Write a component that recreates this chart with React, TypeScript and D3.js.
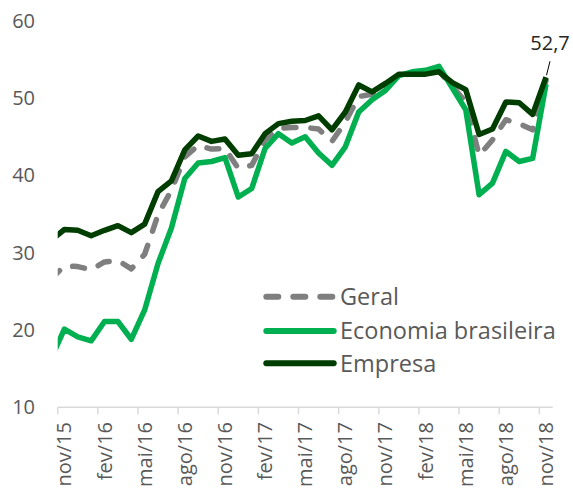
import React from "react";
import * as d3 from "d3";

// Categories: out/15 is only partly visible (clipped at the axis start)
const months: string[] = [
  "out/15", "nov/15", "dez/15", "jan/16", "fev/16", "mar/16", "abr/16", "mai/16", "jun/16", "jul/16",
  "ago/16", "set/16", "out/16", "nov/16", "dez/16", "jan/17", "fev/17", "mar/17", "abr/17", "mai/17",
  "jun/17", "jul/17", "ago/17", "set/17", "out/17", "nov/17", "dez/17", "jan/18", "fev/18", "mar/18",
  "abr/18", "mai/18", "jun/18", "jul/18", "ago/18", "set/18", "out/18", "nov/18",
];

const geral: number[] = [
  26.6, 28.3, 28.2, 27.8, 28.8, 29.0, 27.9, 29.8, 34.9, 38.1,
  42.4, 43.9, 43.4, 43.5, 40.9, 41.3, 44.6, 46.1, 46.2, 46.2,
  46.0, 44.4, 46.9, 50.2, 50.5, 51.5, 53.0, 53.2, 53.3, 53.5,
  51.5, 49.5, 42.6, 44.6, 47.2, 46.7, 45.9, 52.3,
];

const economia: number[] = [
  16.3, 20.1, 19.1, 18.6, 21.1, 21.1, 18.8, 22.6, 28.6, 33.2,
  39.6, 41.6, 41.8, 42.3, 37.2, 38.3, 43.5, 45.4, 44.2, 45.0,
  42.9, 41.3, 43.7, 48.2, 49.8, 51.0, 52.9, 53.4, 53.6, 54.1,
  51.3, 48.5, 37.5, 39.0, 43.1, 41.8, 42.2, 51.8,
];

const empresa: number[] = [
  31.6, 33.0, 32.9, 32.2, 32.9, 33.5, 32.6, 33.7, 37.9, 39.3,
  43.3, 45.1, 44.4, 44.7, 42.6, 42.8, 45.4, 46.7, 47.0, 47.1,
  47.7, 45.9, 48.2, 51.7, 50.8, 51.9, 53.1, 53.1, 53.1, 53.4,
  52.0, 51.1, 45.3, 46.0, 49.5, 49.4, 47.9, 52.7,
];

const yTicks: number[] = [10, 20, 30, 40, 50, 60];
const tickLabels: string[] = [
  "nov/15", "fev/16", "mai/16", "ago/16", "nov/16", "fev/17", "mai/17",
  "ago/17", "nov/17", "fev/18", "mai/18", "ago/18", "nov/18",
];
const lastLabel = "52,7";

const series = [
  { name: "Geral", values: geral, color: "#7f7f7f", dash: "12 15" },
  { name: "Economia brasileira", values: economia, color: "#00b050", dash: null },
  { name: "Empresa", values: empresa, color: "#003d00", dash: null },
];

export default function App() {
  const W = 573, H = 493;
  const x0 = 57.7, x1 = 552.7;
  // month index: nov/15 = 0 ; axis spans 37 month bands
  const x = d3.scaleLinear().domain([0, 37]).range([x0, x1]);
  const y = d3.scaleLinear().domain([10, 60]).range([407.3, 20.8]);
  const monthPos = (i: number) => x(i - 1 + 0.5); // i: index in months array

  const line = d3
    .line<number>()
    .x((_, i) => monthPos(i))
    .y((d) => y(d));

  const font = "'Open Sans', sans-serif";
  const textColor = "#595959";

  const lastI = months.length - 1;
  const px = monthPos(lastI);
  const py = y(empresa[lastI]);

  const legendY = [296.7, 331, 363.3];

  return (
    <svg width={W} height={H} style={{ position: "absolute", left: 0, top: 0 }}>
      <rect width={W} height={H} fill="#fff" />
      <defs>
        <clipPath id="plot">
          <rect x={x0} y={0} width={x1 - x0 + 10} height={H} />
        </clipPath>
      </defs>

      {/* y labels */}
      {yTicks.map((t) => (
        <text key={t} x={35} y={y(t)} dy="0.35em" textAnchor="end" fontFamily={font} fontSize={20} fill={textColor}>
          {t}
        </text>
      ))}

      {/* x axis */}
      <line x1={x0} x2={x1} y1={y(10)} y2={y(10)} stroke="#d9d9d9" strokeWidth={1.5} />
      {tickLabels.map((lab, k) => {
        const m = k * 3;
        return (
          <g key={lab}>
            <line x1={x(m)} x2={x(m)} y1={y(10)} y2={y(10) + 7} stroke="#d9d9d9" strokeWidth={1.5} />
            <text
              transform={`translate(${x(m + 0.5)},${422}) rotate(-90)`}
              textAnchor="end"
              dy="0.35em"
              fontFamily={font}
              fontSize={20}
              fill={textColor}
            >
              {lab}
            </text>
          </g>
        );
      })}

      {/* lines */}
      <g clipPath="url(#plot)">
        {series.map((s) => (
          <path
            key={s.name}
            d={line(s.values) || ""}
            fill="none"
            stroke={s.color}
            strokeWidth={5.5}
            strokeLinejoin="round"
            strokeLinecap={s.dash ? "round" : "butt"}
            strokeDasharray={s.dash || undefined}
          />
        ))}
      </g>

      {/* annotation */}
      <line x1={px + 0.5} y1={py - 2} x2={px + 4} y2={py - 16} stroke="#000" strokeWidth={1} />
      <text x={px + 4} y={py - 34} dy="0.35em" textAnchor="middle" fontFamily={font} fontSize={20} fill="#262626">
        {lastLabel}
      </text>

      {/* legend */}
      {series.map((s, i) => (
        <g key={s.name}>
          <line
            x1={266.3}
            x2={333.7}
            y1={legendY[i]}
            y2={legendY[i]}
            stroke={s.color}
            strokeWidth={6}
            strokeLinecap="round"
            strokeDasharray={s.dash || undefined}
          />
          <text x={340} y={legendY[i]} dy="0.35em" fontFamily={font} fontSize={23.5} fill={textColor}>
            {s.name}
          </text>
        </g>
      ))}
    </svg>
  );
}
